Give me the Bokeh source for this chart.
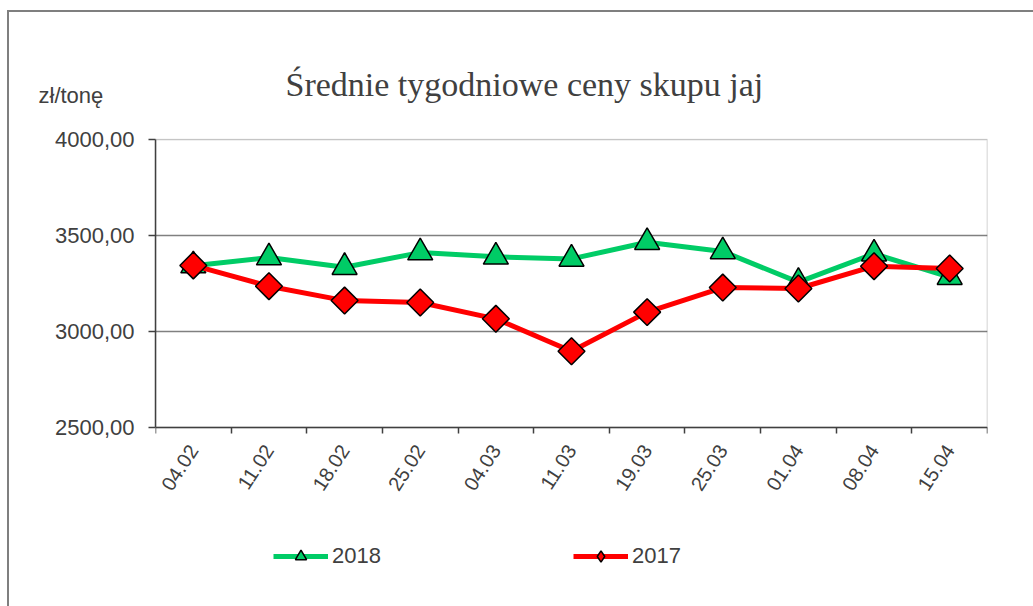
import math
from bokeh.plotting import figure
from bokeh.models import FixedTicker, Legend, LegendItem, Range1d, Title, BoxAnnotation
from bokeh.embed import file_html
from bokeh.resources import INLINE

categories = ["04.02", "11.02", "18.02", "25.02", "04.03", "11.03",
              "19.03", "25.03", "01.04", "08.04", "15.04"]
prices_2018 = [3343, 3385, 3335, 3411, 3389, 3378, 3465, 3417, 3257, 3405, 3283]
prices_2017 = [3344, 3236, 3161, 3151, 3066, 2897, 3101, 3229, 3224, 3340, 3328]
y_ticks = [2500, 3000, 3500, 4000]
y_tick_labels = ["2500,00", "3000,00", "3500,00", "4000,00"]
series_names = ["2018", "2017"]
title_text = "Średnie tygodniowe ceny skupu jaj"
unit_text = "zł/tonę"

GREEN = "#00CC66"
RED = "#FF0000"
TXT = "#404040"

x = [i + 0.5 for i in range(len(categories))]

# layout (pixels)
FRAME_W = 832
PLOT_H = 288          # height of the value area (2500..4000)
TOP_PAD = 1           # frame starts 1px above the 4000 line so the border is not clipped
FRAME_H = 468         # frame extends below the value area to hold the legend
y_span = y_ticks[-1] - y_ticks[0]
px = y_span / PLOT_H
y_end = y_ticks[-1] + TOP_PAD * px
y_start = y_end - FRAME_H * px

p = figure(frame_width=FRAME_W, frame_height=FRAME_H, output_backend="svg",
           toolbar_location=None, title_location=None,
           x_range=Range1d(0, len(categories)), y_range=Range1d(y_start, y_end),
           min_border_left=155, min_border_right=46, min_border_top=138,
           min_border_bottom=0)
p.background_fill_color = "white"
p.border_fill_color = None
p.outline_line_color = None
p.styles = {
    "background": "linear-gradient(#7f7f7f,#7f7f7f) 7px 10px / 2px 100% no-repeat, "
                  "linear-gradient(#7f7f7f,#7f7f7f) 7px 10px / 100% 2px no-repeat, white"
}

# y axis
yax = p.yaxis[0]
yax.ticker = FixedTicker(ticks=y_ticks)
yax.bounds = (y_ticks[0], y_ticks[-1])
yax.major_label_overrides = dict(zip(y_ticks, y_tick_labels))
yax.major_label_text_font = "Liberation Sans"
yax.major_label_text_font_size = "22px"
yax.major_label_text_color = TXT
yax.major_tick_out = 7
yax.major_tick_in = 0
yax.major_tick_line_color = TXT
yax.major_tick_line_width = 1.5
yax.minor_tick_line_color = None
yax.axis_line_color = TXT
yax.axis_line_width = 1.5
yax.major_label_standoff = 14

# x axis (placed at the 2500 level inside the frame)
xax = p.xaxis[0]
xax.fixed_location = y_ticks[0]
xax.ticker = FixedTicker(ticks=x, minor_ticks=list(range(len(categories) + 1)))
xax.major_label_overrides = {xi: c for xi, c in zip(x, categories)}
xax.major_label_text_font = "Liberation Sans"
xax.major_label_text_font_size = "20px"
xax.major_label_text_color = TXT
xax.major_label_orientation = math.radians(57)
xax.major_tick_line_color = None
xax.major_tick_out = 0
xax.major_tick_in = 0
xax.minor_tick_out = 6
xax.minor_tick_in = 0
xax.minor_tick_line_color = TXT
xax.minor_tick_line_width = 1.5
xax.axis_line_color = TXT
xax.axis_line_width = 1.5
xax.major_label_standoff = 13

p.xgrid.grid_line_color = None
p.ygrid.ticker = FixedTicker(ticks=y_ticks[1:-1])
p.ygrid.grid_line_color = "#808080"
p.ygrid.grid_line_width = 1.5

# plot-area border
p.add_layout(BoxAnnotation(left=0, right=len(categories), bottom=y_ticks[0], top=y_ticks[-1],
                           fill_alpha=0, line_color=TXT, line_width=1.5, level="underlay"))

# series
gl = p.line(x, prices_2018, line_color=GREEN, line_width=5, line_join="round")
gs = p.scatter(x, prices_2018, marker="triangle", size=25, fill_color=GREEN,
               line_color="black", line_width=1.5)
rl = p.line(x, prices_2017, line_color=RED, line_width=5, line_join="round")
rs = p.scatter(x, prices_2017, marker="square", angle=math.pi / 4, size=19,
               fill_color=RED, line_color="black", line_width=1.5)
# legend-only key for 2017 (diamond shape; zero size on the plot itself)
rs_key = p.scatter(x, prices_2017, marker="diamond", size=0,
                   fill_color=RED, line_color="black", line_width=1.5)

legend = Legend(items=[LegendItem(label=series_names[0], renderers=[gl, gs]),
                       LegendItem(label=series_names[1], renderers=[rl, rs_key])],
                orientation="horizontal", location=(118, 36),
                glyph_width=55, glyph_height=28, label_standoff=4, spacing=192,
                padding=0, margin=0, border_line_color=None,
                background_fill_alpha=0,
                label_text_font="Liberation Sans", label_text_font_size="22px",
                label_text_color=TXT)
p.add_layout(legend, "center")

unit_title = Title(text=unit_text, align="left", offset=-117, standoff=62,
                   text_font="Liberation Sans", text_font_size="22px",
                   text_font_style="normal", text_color=TXT)
main_title = Title(text=title_text, align="left", offset=130, standoff=-106,
                   text_font="Liberation Serif", text_font_size="34px",
                   text_font_style="normal", text_color=TXT)
p.add_layout(unit_title, "above")
p.add_layout(main_title, "above")

open("out.html", "w").write(file_html(p, INLINE))
